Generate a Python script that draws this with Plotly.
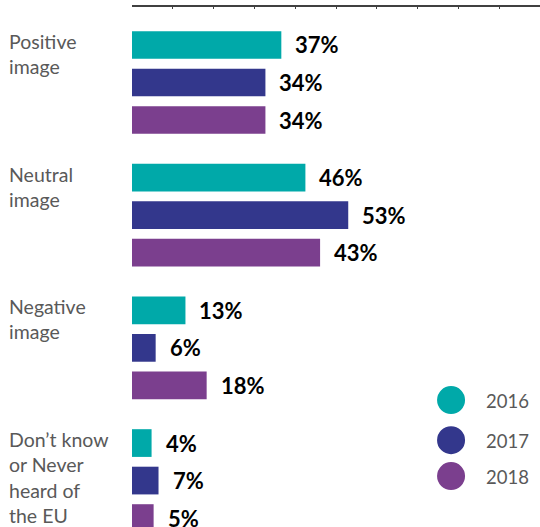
import plotly.graph_objects as go

categories = ["Positive<br>image", "Neutral<br>image", "Negative<br>image",
              "Don’t know<br>or Never<br>heard of<br>the EU"]
years = ["2016", "2017", "2018"]
# bar lengths as drawn in the picture (percent scale)
bar_2016 = [36.6, 42.5, 13.1, 4.8]
bar_2017 = [32.7, 53.0, 5.8, 6.5]
bar_2018 = [32.7, 46.1, 18.3, 5.3]
# printed value labels
lab_2016 = ["37%", "46%", "13%", "4%"]
lab_2017 = ["34%", "53%", "6%", "7%"]
lab_2018 = ["34%", "43%", "18%", "5%"]
colors = ["#00A9A9", "#33378C", "#7B3F8E"]

series = [bar_2016, bar_2017, bar_2018]
labels = [lab_2016, lab_2017, lab_2018]

BARGAP = 0.152
fig = go.Figure()
for yr, vals, col in zip(years, series, colors):
    fig.add_trace(go.Bar(
        y=categories, x=vals, name=yr, orientation="h",
        marker=dict(color=col, line=dict(width=0)),
        showlegend=False, hoverinfo="skip",
    ))

annotations = []
slot = (1 - BARGAP) / len(years)
for t, (vals, labs) in enumerate(zip(series, labels)):
    for i, (v, lab) in enumerate(zip(vals, labs)):
        annotations.append(dict(
            x=v, y=i + (t - 1) * slot, xref="x", yref="y",
            text="<b>" + lab + "</b>", showarrow=False,
            xanchor="left", yanchor="middle",
            xshift=12, font=dict(family="Lato", size=22, color="#000000"),
        ))

# category labels, left-aligned
for i, c in enumerate(categories):
    annotations.append(dict(
        x=-0.3064, y=i - 0.41, xref="paper", yref="y", text=c,
        showarrow=False, xanchor="left", yanchor="top", align="left",
        font=dict(family="Lato", size=19.5, color="#595959"),
    ))

# custom legend
shapes = []
leg_y = [0.244, 0.167, 0.098]
for yr, col, ly in zip(years, colors, leg_y):
    shapes.append(dict(
        type="circle", xref="paper", yref="paper",
        xsizemode="pixel", ysizemode="pixel",
        xanchor=0.782, yanchor=ly, x0=-14, x1=14, y0=-14, y1=14,
        fillcolor=col, line=dict(width=0),
    ))
    annotations.append(dict(
        x=0.8627, y=ly, xref="paper", yref="paper", text=yr,
        showarrow=False, xanchor="left", yanchor="middle", yshift=-1,
        font=dict(family="Lato", size=18.5, color="#595959"),
    ))

fig.update_layout(
    width=540, height=527,
    margin=dict(l=132, r=0, t=7, b=0),
    paper_bgcolor="white", plot_bgcolor="white",
    barmode="group", bargap=BARGAP, bargroupgap=0.261,
    annotations=annotations, shapes=shapes,
    xaxis=dict(side="top", range=[0, 100], dtick=10, showgrid=False,
               zeroline=False, showline=True, linecolor="#404040",
               linewidth=1.5, ticks="inside", ticklen=2, tickwidth=1,
               tickcolor="#404040", showticklabels=False),
    yaxis=dict(type="category", range=[3.350, -0.569], showgrid=False,
               zeroline=False, showline=False, showticklabels=False),
)

fig.write_html("out.html",
               config={"displayModeBar": False},
               post_script="document.body.style.margin='0';"
                           "document.body.style.overflow='hidden';")
